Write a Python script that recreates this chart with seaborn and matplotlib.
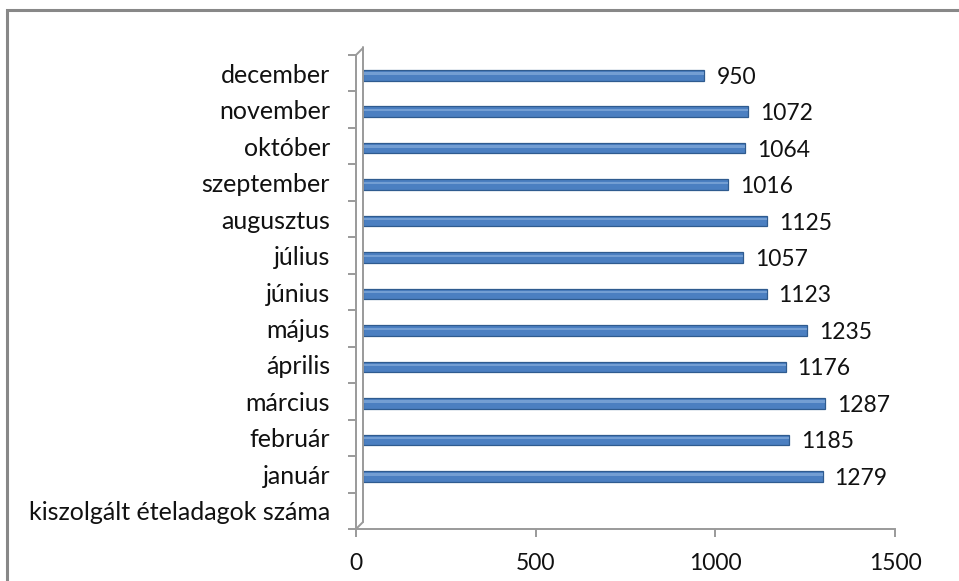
import matplotlib
matplotlib.use("Agg")
import matplotlib.pyplot as plt
from matplotlib.transforms import ScaledTranslation
from matplotlib.lines import Line2D
from matplotlib.patches import Rectangle
import seaborn as sns
import pandas as pd
import numpy as np

# ---- data ----
months = ['január', 'február', 'március', 'április', 'május', 'június',
          'július', 'augusztus', 'szeptember', 'október', 'november', 'december']
values = [1279, 1185, 1287, 1176, 1235, 1123, 1057, 1125, 1016, 1064, 1072, 950]
extra_category = 'kiszolgált ételadagok száma'
x_ticks = [0, 500, 1000, 1500]

categories = months[::-1] + [extra_category]
cat_values = values[::-1] + [np.nan]
df = pd.DataFrame({'kategória': categories, 'adag': cat_values})

sns.set_theme(style='white')
plt.rcParams['font.family'] = ['Lato', 'DejaVu Sans']

DPI = 100
PX = 72 / DPI  # points per pixel
fig = plt.figure(figsize=(9.59, 5.81), dpi=DPI)
ax = fig.add_axes([356/959, 52/581, (895-356)/959, (529-55)/581])

GRAY = '#9a9a9a'
BLUE = '#4b7fc1'
EDGE = '#2f5b8f'
TXT = '#111111'

sns.barplot(data=df, x='adag', y='kategória', order=categories, orient='h',
            color=BLUE, width=0.29, saturation=1, edgecolor=EDGE, linewidth=0.9,
            ax=ax)

# 3D-like offset of the bars (pushed back onto the wall)
shift = ScaledTranslation(7/DPI, -2/DPI, fig.dpi_scale_trans)
for p in ax.patches:
    p.set_transform(ax.transData + shift)

# light highlight on the upper part of each bar (cylinder look)
for p in list(ax.patches):
    x0, y0 = p.get_x(), p.get_y()
    w, h = p.get_width(), p.get_height()
    if not np.isfinite(w) or w == 0:
        continue
    hl = Rectangle((x0, y0 + h*0.22), w, h*0.22, facecolor='#7ea6d8',
                   edgecolor='none', transform=ax.transData + shift, alpha=0.8)
    ax.add_patch(hl)

ax.set_xlim(0, 1500)
ax.set_ylim(len(categories) - 0.5, -0.5)
ax.set_xlabel('')
ax.set_ylabel('')

# value labels
for cat, v in zip(categories, cat_values):
    if np.isnan(v):
        continue
    ax.annotate(f'{int(v)}', xy=(v, cat), xytext=(19, -4), textcoords='offset pixels',
                ha='left', va='center', fontsize=16.5, color=TXT)

# axes style
for s in ['top', 'right']:
    ax.spines[s].set_visible(False)
for s in ['left', 'bottom']:
    ax.spines[s].set_color(GRAY)
    ax.spines[s].set_linewidth(1.4)

ax.set_xticks(x_ticks)
ax.set_xticklabels([str(t) for t in x_ticks])
ax.tick_params(axis='x', length=8*PX, width=1.4, color=GRAY, pad=16*PX, labelsize=16.5,
               labelcolor=TXT, direction='out', bottom=True)
ax.set_yticks(range(len(categories)))
ax.set_yticks(np.arange(-0.5, len(categories), 1.0), minor=True)
ax.tick_params(axis='y', which='major', length=0, pad=26*PX, labelsize=18,
               labelcolor=TXT, left=False)
ax.tick_params(axis='y', which='minor', length=8*PX, width=1.4, color=GRAY,
               direction='out', left=True)

# back wall of the 3D chart
wall = ax.transAxes + ScaledTranslation(7/DPI, 7/DPI, fig.dpi_scale_trans)
ax.add_line(Line2D([0, 0], [0, 1.0 + 1/474], transform=wall, color=GRAY,
                   lw=1.4, clip_on=False))
for yy in [0, 1]:
    l = Line2D([0, 7/539], [yy, yy + 7/474], transform=ax.transAxes, color=GRAY,
               lw=1.4, clip_on=False)
    ax.add_line(l)

# outer chart border
fig.patches.append(Rectangle((7/959, -0.05), 1.2, (581-10)/581 + 0.05,
                             transform=fig.transFigure, fill=False,
                             edgecolor='#888888', linewidth=2.2))

fig.savefig('out.png', dpi=DPI, facecolor='white')
